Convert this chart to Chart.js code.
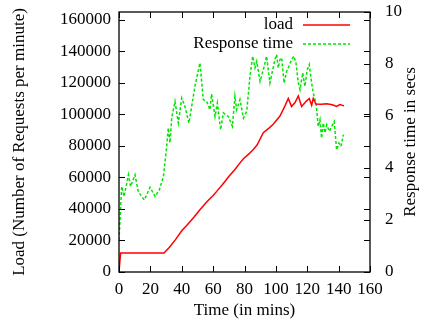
<!DOCTYPE html>
<html>
<head>
<meta charset="utf-8">
<script src="https://cdn.jsdelivr.net/npm/chart.js@4/dist/chart.umd.min.js"></script>
<style>
  html, body { margin: 0; padding: 0; background: #fff; }
  #wrap { width: 438px; height: 326px; }
</style>
</head>
<body>
<div id="wrap"><canvas id="chart" width="438" height="326"></canvas></div>
<script>
// load (requests per minute) over time
const loadTime = [0, 1, 28.7, 32, 36, 40, 44, 48, 51.6, 56, 60, 62.3, 66, 70, 73.9, 77, 79.3, 83, 85.6, 88, 92, 96, 98.3, 102.6, 105.8, 107.9, 110, 112.2, 114.3, 116.4, 119.6, 121.3, 122.8, 123.8, 125.5, 129, 132.4, 136, 138.7, 140.8, 143.5];
const loadValues = [0, 12000, 12000, 15500, 20500, 26100, 30500, 35000, 39500, 44500, 48500, 51100, 55500, 60500, 65000, 69000, 71800, 75000, 77700, 80500, 88300, 91500, 93600, 98900, 105300, 110000, 104900, 107400, 111600, 104900, 108500, 110000, 105700, 110000, 106400, 106300, 106600, 106000, 104900, 106100, 105300];

// response time (secs) over time
const rtTime = [0, 1.7, 3.2, 6, 7.4, 10.2, 12.3, 16.1, 19.8, 23, 25.7, 28.3, 30.4, 31.4, 32.5, 33.6, 35.7, 37.8, 40, 42, 44.6, 48.4, 51.6, 53.7, 55.9, 58, 59, 61.2, 62.7, 64.8, 66.5, 69.7, 72.3, 73.9, 75, 77.1, 79.3, 81.4, 83.5, 85.2, 86.7, 87.8, 89.9, 92, 94.1, 96.2, 99.4, 100.5, 101.5, 102.6, 103.7, 105.2, 106.9, 107.9, 110, 111.5, 112.8, 114.3, 115.4, 117.1, 118.5, 120, 121.3, 122.8, 123.8, 125.6, 127, 128.1, 129.1, 130.2, 131.3, 132.4, 134.1, 135.6, 137.2, 138.7, 140.2, 141.5, 143];
const rtValues = [1.23, 3.29, 2.9, 3.74, 3.29, 3.74, 3.09, 2.77, 3.26, 2.9, 3.16, 3.67, 4.83, 5.54, 4.97, 5.92, 6.56, 5.73, 6.69, 6.37, 5.73, 7.14, 8.04, 6.63, 6.56, 6.24, 6.85, 5.98, 6.5, 5.47, 6.12, 5.98, 5.6, 6.76, 6.24, 6.63, 5.92, 6.18, 7.53, 8.3, 7.85, 8.1, 7.33, 7.78, 8.3, 7.27, 8.17, 8.36, 7.85, 8.17, 8.24, 7.27, 7.72, 7.85, 8.17, 8.3, 8.04, 7.27, 7.01, 7.66, 7.14, 7.78, 7.98, 7.27, 6.89, 6.5, 5.6, 5.86, 5.15, 5.73, 5.35, 5.66, 5.41, 5.6, 5.79, 4.7, 4.96, 4.83, 5.28];

const xTicks = [0, 20, 40, 60, 80, 100, 120, 140, 160];
const loadTicks = [0, 20000, 40000, 60000, 80000, 100000, 120000, 140000, 160000];
const rtTicks = [0, 2, 4, 6, 8, 10];

const FONT = "'Liberation Serif', 'DejaVu Serif', serif";
const RED = "#ff0000";
const GREEN = "#00e600";
const RIGHT_TITLE = "Response time in secs";

// gnuplot style frame with inward ticks on all sides
const framePlugin = {
  id: "frame",
  afterDatasetsDraw(chart) {
    const { ctx, chartArea: a, scales } = chart;
    const len = 6;
    ctx.save();
    ctx.strokeStyle = "#000";
    ctx.lineWidth = 1;
    ctx.beginPath();
    xTicks.forEach((v) => {
      const px = Math.round(scales.x.getPixelForValue(v)) + 0.5;
      ctx.moveTo(px, a.bottom); ctx.lineTo(px, a.bottom - len);
      ctx.moveTo(px, a.top); ctx.lineTo(px, a.top + len);
    });
    loadTicks.forEach((v) => {
      const py = Math.round(scales.y.getPixelForValue(v)) + 0.5;
      ctx.moveTo(a.left, py); ctx.lineTo(a.left + len, py);
      ctx.moveTo(a.right, py); ctx.lineTo(a.right - len, py);
    });
    rtTicks.forEach((v) => {
      const py = Math.round(scales.y1.getPixelForValue(v)) + 0.5;
      ctx.moveTo(a.right, py); ctx.lineTo(a.right - len, py);
    });
    ctx.stroke();
    ctx.lineWidth = 1.3;
    ctx.strokeRect(a.left, a.top, a.right - a.left, a.bottom - a.top);

    // key, top right inside the plot
    ctx.font = "17px " + FONT;
    ctx.fillStyle = "#000";
    ctx.textAlign = "right";
    ctx.textBaseline = "middle";
    chart.data.datasets.forEach((ds, i) => {
      const y = a.top + 13 + i * 19;
      ctx.fillText(ds.label, a.right - 77, y);
      ctx.strokeStyle = ds.borderColor;
      ctx.lineWidth = 1.5;
      ctx.setLineDash(ds.borderDash || []);
      ctx.beginPath();
      ctx.moveTo(a.right - 67, y);
      ctx.lineTo(a.right - 20, y);
      ctx.stroke();
      ctx.setLineDash([]);
    });

    // right axis title reads bottom to top, like the left one
    ctx.translate(scales.y1.right - 27, (a.top + a.bottom) / 2);
    ctx.rotate(-Math.PI / 2);
    ctx.textAlign = "center";
    ctx.fillText(RIGHT_TITLE, 0, 0);
    ctx.restore();
  },
};

const tickFont = { family: FONT, size: 17 };

// fixed plot box: the vertical axes should not push it around
function fixVertical(width) {
  return (s) => {
    s.width = width;
    s.paddingTop = 12;
    s.paddingBottom = 0;
  };
}

new Chart(document.getElementById("chart"), {
  type: "line",
  data: {
    datasets: [
      {
        label: "load",
        data: loadTime.map((t, i) => ({ x: t, y: loadValues[i] })),
        yAxisID: "y",
        borderColor: RED,
        borderWidth: 1.5,
        pointRadius: 0,
        tension: 0,
      },
      {
        label: "Response time",
        data: rtTime.map((t, i) => ({ x: t, y: rtValues[i] })),
        yAxisID: "y1",
        borderColor: GREEN,
        borderWidth: 1.5,
        borderDash: [3, 2],
        pointRadius: 0,
        tension: 0,
      },
    ],
  },
  options: {
    responsive: false,
    animation: false,
    layout: { padding: 0 },
    plugins: { legend: { display: false }, tooltip: { enabled: false } },
    scales: {
      x: {
        type: "linear",
        min: 0,
        max: 160,
        afterBuildTicks: (s) => { s.ticks = xTicks.map((v) => ({ value: v })); },
        afterFit: (s) => { s.height = 54; },
        grid: { display: false, drawTicks: false },
        border: { display: false },
        ticks: { font: tickFont, color: "#000", padding: 7, maxRotation: 0 },
        title: { display: true, text: "Time (in mins)", font: tickFont, color: "#000", padding: { top: 0, bottom: 5 } },
      },
      y: {
        position: "left",
        min: 0,
        max: 164800,
        afterBuildTicks: (s) => { s.ticks = loadTicks.map((v) => ({ value: v })); },
        afterFit: fixVertical(119),
        grid: { display: false, drawTicks: false },
        border: { display: false },
        ticks: { font: tickFont, color: "#000", padding: 8, callback: (v) => String(v) },
        title: { display: true, text: "Load (Number of Requests per minute)", font: tickFont, color: "#000", padding: { top: 9, bottom: 0 } },
      },
      y1: {
        position: "right",
        min: 0,
        max: 10,
        afterBuildTicks: (s) => { s.ticks = rtTicks.map((v) => ({ value: v })); },
        afterFit: fixVertical(68),
        grid: { display: false, drawTicks: false },
        border: { display: false },
        ticks: { font: tickFont, color: "#000", padding: 15 },
        title: { display: false },
      },
    },
  },
  plugins: [framePlugin],
});
</script>
</body>
</html>
